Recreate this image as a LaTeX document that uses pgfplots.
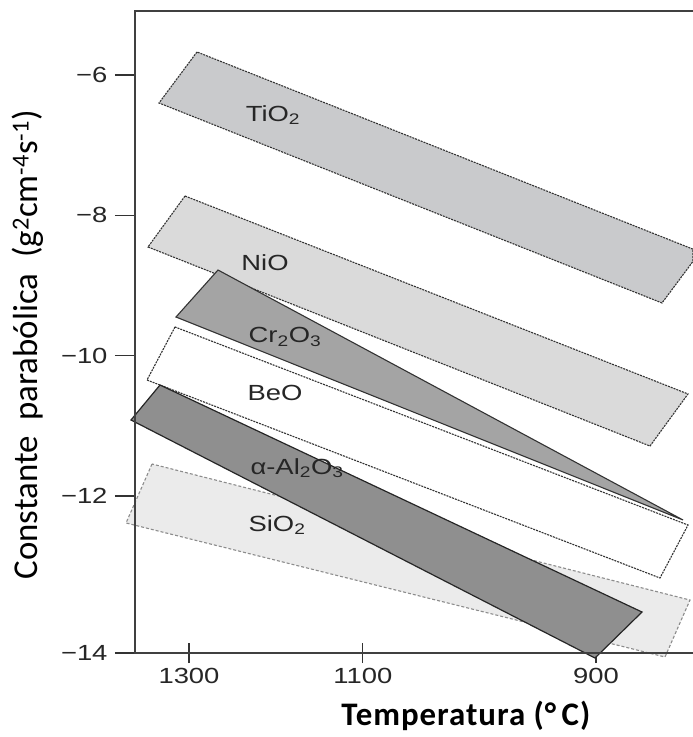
\documentclass[border=0pt]{standalone}
\usepackage{fontspec}
\usepackage{pgfplots}
\pgfplotsset{compat=1.18}
\newfontfamily\hel[FakeStretch=1.25]{Liberation Sans}
\newfontfamily\calib{Carlito}
\newfontfamily\calibx[LetterSpace=3]{Carlito}
\definecolor{ctio}{HTML}{C9CACC}
\definecolor{cnio}{HTML}{DADADA}
\definecolor{ccr}{HTML}{A4A4A4}
\definecolor{calo}{HTML}{8F8F8F}
\definecolor{csio}{HTML}{EBEBEB}
\begin{document}
\begin{tikzpicture}
\begin{axis}[
  scale only axis, width=558bp, height=642bp,
  xmin=6.0696, xmax=9.0424, ymin=-14.239, ymax=-5.088,
  clip=false,
  axis line style={draw=none},
  xtick={6.35728,7.28332,8.52515},
  xticklabels={1300,1100,900},
  ytick={-6,-8,-10,-12,-14.239},
  yticklabels={−6,−8,−10,−12,−14},
  xtick pos=left, ytick pos=left,
  ytick align=outside, xtick align=center,
  major tick length=20bp,
  tick style={black!80, line width=1.2bp},
  ticklabel style={font=\hel\fontsize{22}{26}\selectfont, text=black!85},
  yticklabel style={xshift=-4bp},
  xticklabel style={yshift=-2bp},
  every axis y label/.style={at={(axis description cs:-0.192,0.48)}, rotate=90, anchor=center},
  every axis x label/.style={at={(axis description cs:0.593,-0.098)}, anchor=center},
  ylabel={\calib\fontsize{35}{40}\selectfont Constante\hspace{0.45em}parabólica\hspace{0.45em}(g\textsuperscript{2}cm\textsuperscript{-4}s\textsuperscript{-1})},
  xlabel={\calibx\bfseries\fontsize{33}{38}\selectfont Temperatura (°\,C)},
]
% SiO2
\addplot[fill=csio, draw=black!45, line width=1.1bp, dash pattern=on 3bp off 2bp]
  coordinates {(6.1602,-11.545) (6.0217,-12.386) (8.8933,-14.296) (9.0264,-13.484)} -- cycle;
% TiO2
\addplot[fill=ctio, draw=black!80, line width=1.1bp, dash pattern=on 2bp off 1bp]
  coordinates {(6.3999,-5.672) (6.1975,-6.399) (8.8773,-9.250) (9.0424,-8.657) (9.0424,-8.483)} -- cycle;
% NiO
\addplot[fill=cnio, draw=black!80, line width=1.1bp, dash pattern=on 2bp off 1bp]
  coordinates {(6.3360,-7.725) (6.1389,-8.452) (8.8133,-11.289) (9.0158,-10.547)} -- cycle;
% BeO
\addplot[fill=white, draw=black!80, line width=1.1bp, dash pattern=on 2bp off 1bp]
  coordinates {(6.2827,-9.592) (6.1335,-10.348) (8.8666,-13.170) (9.0158,-12.415)} -- cycle;
% Cr2O3
\addplot[fill=ccr, draw=black!80, line width=1.1bp]
  coordinates {(6.5118,-8.780) (6.2880,-9.450) (8.9891,-12.343)} -- cycle;
% alpha-Al2O3
\addplot[fill=calo, draw=black!85, line width=1.2bp]
  coordinates {(6.2028,-10.419) (6.0483,-10.918) (8.5203,-14.311) (8.7707,-13.655)} -- cycle;
% frame
\draw[black!75, line width=1.4bp] (rel axis cs:1,1) -- (rel axis cs:0,1) -- (rel axis cs:0,0) -- (rel axis cs:1,0);
% labels
\begin{scope}[every node/.style={font=\hel\fontsize{22}{26}\selectfont, text=black!85}]
\node at (axis cs:6.8048,-6.570) {TiO\textsubscript{2}};
\node at (axis cs:6.7622,-8.680) {NiO};
\node at (axis cs:6.8687,-9.735) {Cr\textsubscript{2}O\textsubscript{3}};
\node at (axis cs:6.8155,-10.533) {BeO};
\node at (axis cs:6.9327,-11.602) {α-Al\textsubscript{2}O\textsubscript{3}};
\node at (axis cs:6.8261,-12.415) {SiO\textsubscript{2}};
\end{scope}
\end{axis}
\pgfresetboundingbox
\path ([xshift=-135bp,yshift=-84bp]current axis.south west) rectangle ([yshift=11bp]current axis.north east);
\end{tikzpicture}
\end{document}
